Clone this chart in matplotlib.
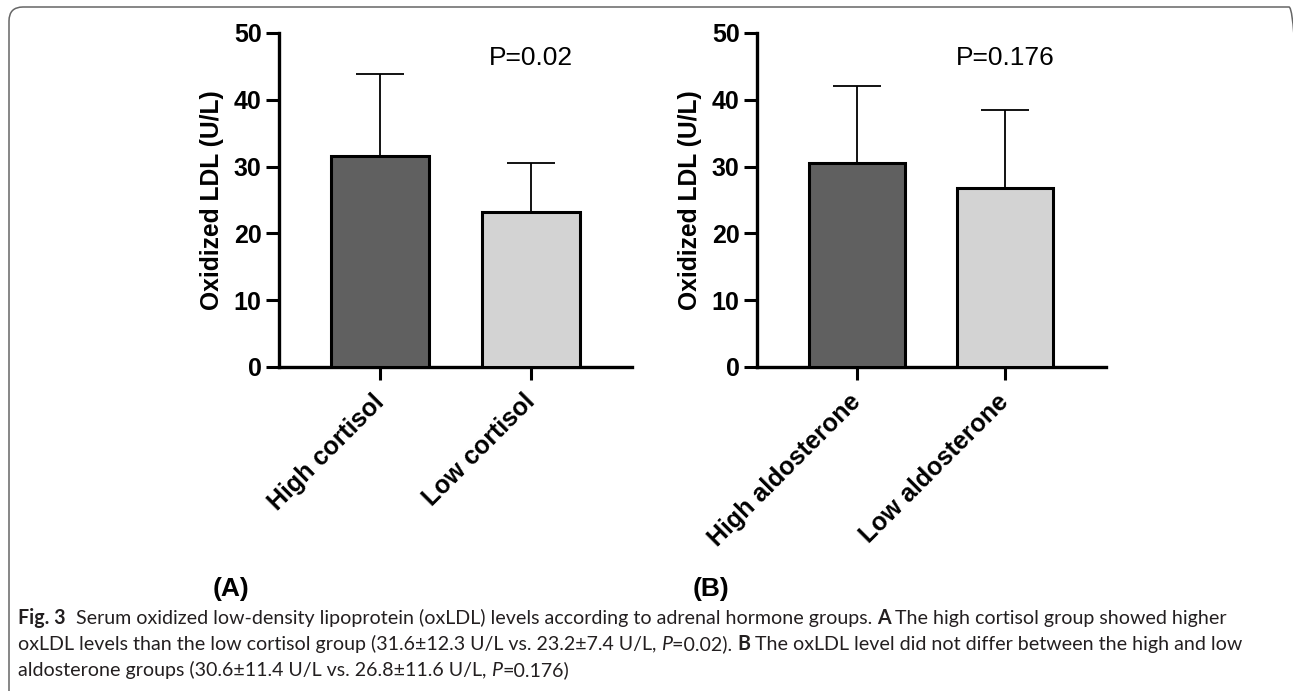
import matplotlib
matplotlib.use('Agg')
import matplotlib.pyplot as plt
from matplotlib import font_manager
from matplotlib.patches import FancyBboxPatch

# data (mean +/- SD, U/L)
groups_a = ['High cortisol', 'Low cortisol']
mean_a = [31.6, 23.2]
sd_a = [12.3, 7.4]
p_a = 'P=0.02'

groups_b = ['High aldosterone', 'Low aldosterone']
mean_b = [30.6, 26.8]
sd_b = [11.4, 11.6]
p_b = 'P=0.176'

bar_colors = ['#606060', '#d3d3d3']
yticks = [0, 10, 20, 30, 40, 50]

W, H = 1293, 691
plt.rcParams['font.family'] = 'Liberation Sans'

fig = plt.figure(figsize=(W / 100, H / 100), dpi=100)
fig.patch.set_facecolor('white')


def panel(rect, groups, means, sds, ptext, xlim):
    ax = fig.add_axes(rect)
    x = list(range(len(groups)))
    ax.bar(x, means, width=0.65, color=bar_colors, edgecolor='black', linewidth=2.2, zorder=3)
    ax.errorbar(x, means, yerr=[[0] * len(sds), sds], fmt='none', ecolor='black',
                elinewidth=1.3, capsize=17, capthick=1.3, zorder=2)
    ax.set_xlim(*xlim)
    ax.set_ylim(0, 50)
    ax.set_yticks(yticks)
    ax.set_xticks(x)
    ax.set_xticklabels(groups, rotation=45, ha='right', va='center', rotation_mode='anchor',
                       fontsize=18, fontweight='bold')
    for lab in ax.get_yticklabels():
        lab.set_fontweight('bold')
    ax.tick_params(axis='y', length=9.5, width=2.2, pad=3, labelsize=18)
    ax.tick_params(axis='x', length=9.5, width=2.2, pad=13)
    for s in ['top', 'right']:
        ax.spines[s].set_visible(False)
    for s in ['left', 'bottom']:
        ax.spines[s].set_linewidth(2.4)
    ax.set_ylabel('Oxidized LDL (U/L)', fontsize=17.7, fontweight='bold', labelpad=7)
    ax.text(1.0, 46.3, ptext, ha='center', va='center', fontsize=19)
    return ax


panel([279 / W, 324 / H, 353 / W, 334 / H], groups_a, mean_a, sd_a, p_a, (-0.67, 1.67))
panel([757 / W, 324 / H, 349 / W, 334 / H], groups_b, mean_b, sd_b, p_b, (-0.675, 1.68))

fig.text(231 / W, 1 - 589 / H, '(A)', fontsize=19, fontweight='bold', ha='center', va='center')
fig.text(711 / W, 1 - 589 / H, '(B)', fontsize=19, fontweight='bold', ha='center', va='center')

# rounded frame around the figure (right and bottom edges run off the picture)
frame = FancyBboxPatch((9, -40), 1294, H - 7 + 40, boxstyle='round,pad=0,rounding_size=14',
                       transform=None, facecolor='none', edgecolor='#666666', linewidth=1.1)
fig.patches.append(frame)

# caption
cap_family = 'Open Sans'
for fam in ['Liberation Sans Narrow', 'Lato', 'Open Sans']:
    try:
        font_manager.findfont(font_manager.FontProperties(family=fam), fallback_to_default=False)
        cap_family = fam
        break
    except Exception:
        pass

lines = [
    [('Fig. 3', 'bold', 'normal'),
     ('  Serum oxidized low-density lipoprotein (oxLDL) levels according to adrenal hormone groups. ', 'normal', 'normal'),
     ('A', 'bold', 'normal'),
     (' The high cortisol group showed higher', 'normal', 'normal')],
    [('oxLDL levels than the low cortisol group (31.6\u00b112.3 U/L vs. 23.2\u00b17.4 U/L, ', 'normal', 'normal'),
     ('P', 'normal', 'italic'),
     ('=0.02). ', 'normal', 'normal'),
     ('B', 'bold', 'normal'),
     (' The oxLDL level did not differ between the high and low', 'normal', 'normal')],
    [('aldosterone groups (30.6\u00b111.4 U/L vs. 26.8\u00b111.6 U/L, ', 'normal', 'normal'),
     ('P', 'normal', 'italic'),
     ('=0.176)', 'normal', 'normal')],
]
baselines = [624, 650, 676]

renderer = fig.canvas.get_renderer()


def text_width(s, size, weight, style):
    t1 = fig.text(0, 0, s + '|', fontsize=size, family=cap_family, weight=weight, style=style)
    t2 = fig.text(0, 0, '|', fontsize=size, family=cap_family, weight=weight, style=style)
    w = t1.get_window_extent(renderer).width - t2.get_window_extent(renderer).width
    t1.remove()
    t2.remove()
    return w


line1_w = sum(text_width(s, 10, w, st) for s, w, st in lines[0])
cap_size = 10 * 1210 / line1_w

for pieces, base in zip(lines, baselines):
    x = 18
    for s, w, st in pieces:
        fig.text(x / W, 1 - base / H, s, fontsize=cap_size, family=cap_family, weight=w,
                 style=st, ha='left', va='baseline', color='#231f20')
        x += text_width(s, cap_size, w, st)

fig.savefig('out.png', dpi=100)
